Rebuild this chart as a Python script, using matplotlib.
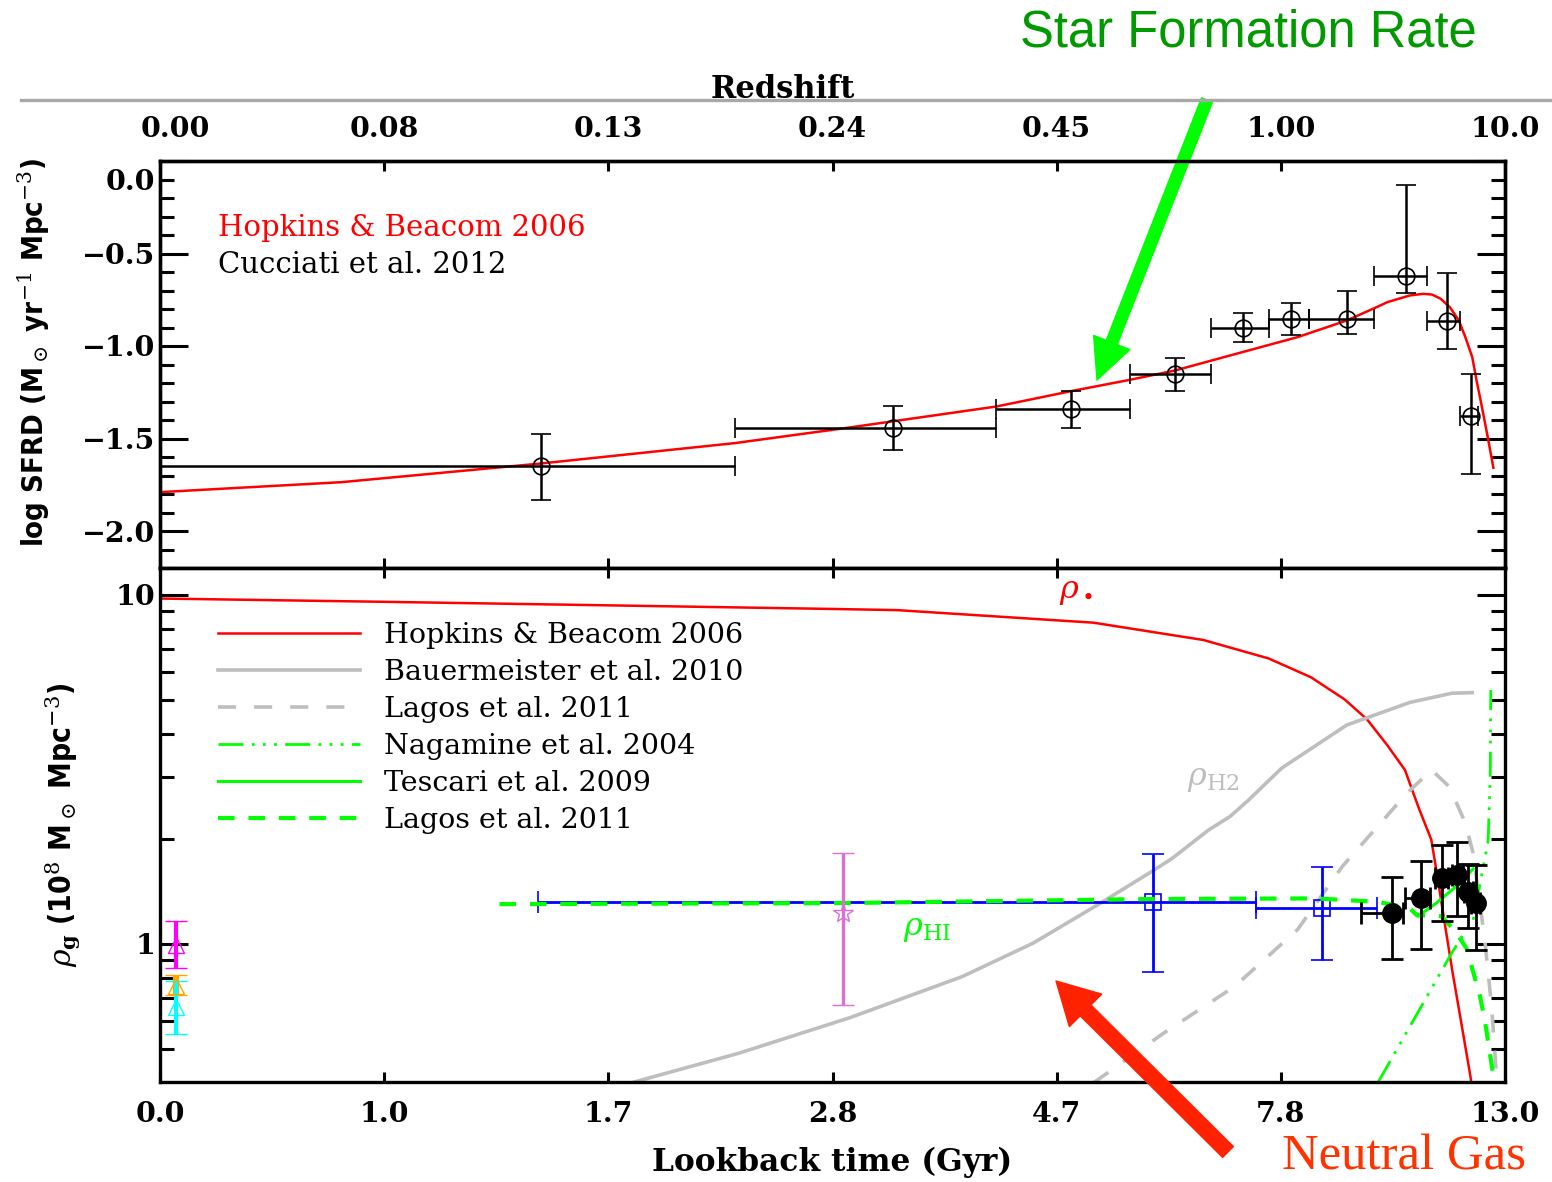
import numpy as np
import matplotlib
matplotlib.use("Agg")
import matplotlib.pyplot as plt
from matplotlib.lines import Line2D
from matplotlib.transforms import ScaledTranslation
from matplotlib.ticker import FixedLocator, NullLocator, NullFormatter, MultipleLocator, FixedFormatter

# shared time axis: these lookback times sit at equal steps along x
lookback_ticks = [0.0, 1.0, 1.7, 2.8, 4.7, 7.8, 13.0]
lookback_labels = ["0.0", "1.0", "1.7", "2.8", "4.7", "7.8", "13.0"]
redshift_labels = ["0.00", "0.08", "0.13", "0.24", "0.45", "1.00", "10.0"]

# --- top panel: star formation rate density ---
hb_t = [0.0, 0.81, 1.49, 2.32, 2.95, 4.19, 4.90, 5.71, 6.34, 7.10, 8.19, 9.33, 10.06,
        10.27, 10.79, 11.10, 11.31, 11.51, 11.72, 11.93, 12.08, 12.24, 12.34, 12.45,
        12.60, 12.73]
hb_sfrd = [-1.790, -1.736, -1.635, -1.525, -1.440, -1.327, -1.244, -1.183, -1.132,
           -1.051, -0.952, -0.862, -0.786, -0.763, -0.727, -0.718, -0.722, -0.745,
           -0.790, -0.862, -0.952, -1.060, -1.186, -1.312, -1.493, -1.658]

cuc_t = [1.49, 3.31, 4.90, 6.34, 7.28, 8.03, 9.33, 10.71, 11.65, 12.20]
cuc_t_lo = [0.0, 2.32, 4.19, 5.71, 6.84, 7.63, 8.45, 9.97, 11.2, 11.96]
cuc_t_hi = [2.32, 4.19, 5.71, 6.84, 7.63, 8.45, 9.96, 11.2, 11.95, 12.38]
cuc_sfrd = [-1.651, -1.444, -1.343, -1.154, -0.904, -0.853, -0.853, -0.624, -0.866, -1.376]
cuc_lo = [-1.831, -1.561, -1.442, -1.241, -0.981, -0.940, -0.934, -0.714, -1.015, -1.691]
cuc_hi = [-1.475, -1.327, -1.241, -1.064, -0.819, -0.769, -0.705, -0.132, -0.606, -1.154]

# --- bottom panel: mass densities (1e8 Msun / Mpc^3) ---
star_t = [0.0, 1.0, 1.7, 2.8, 3.35, 5.21, 6.73, 7.63, 8.50, 9.28, 9.80, 10.27, 10.68,
          10.99, 11.15, 11.29, 11.41, 11.60, 11.79, 11.99, 12.18, 12.25]
star_rho = [9.77, 9.56, 9.34, 9.12, 9.05, 8.33, 7.43, 6.58, 5.81, 5.02, 4.40, 3.71, 3.15,
            2.47, 2.2, 1.99, 1.62, 1.15, 0.82, 0.59, 0.43, 0.38]

baue_t = [1.78, 2.34, 2.95, 3.90, 4.50, 5.31, 6.05, 6.30, 6.80, 7.10, 7.35, 7.82, 9.33,
          10.79, 11.77, 12.24]
baue_h2 = [0.395, 0.486, 0.615, 0.806, 1.005, 1.31, 1.63, 1.76, 2.12, 2.32, 2.58, 3.19,
           4.24, 4.92, 5.23, 5.25]

lagos_h2_t = [5.21, 6.18, 7.16, 8.19, 9.23, 10.58, 10.84, 11.30, 11.71, 12.08, 12.26,
              12.53, 12.69, 12.82]
lagos_h2 = [0.40, 0.555, 0.755, 1.10, 1.67, 2.58, 2.79, 3.15, 2.82, 2.22, 1.82, 1.03,
            0.66, 0.39]

nag_t = [10.05, 10.79, 11.41, 11.76, 12.11, 12.26, 12.57, 12.61, 12.66, 12.67]
nag_hi = [0.40, 0.579, 0.789, 0.94, 1.10, 1.17, 1.86, 1.99, 3.15, 5.34]

tes_t = [10.87, 10.98, 11.41, 11.86, 12.26]
tes_hi = [1.24, 1.20, 1.31, 1.46, 1.64]

lagos_hi_t = [1.36, 2.95, 6.03, 8.61, 10.05, 10.79, 10.95, 11.53, 11.86, 12.11, 12.42,
              12.53, 12.72, 12.78]
lagos_hi = [1.30, 1.31, 1.345, 1.35, 1.32, 1.265, 1.21, 1.20, 1.08, 0.97, 0.707, 0.606,
            0.426, 0.39]

dla_t = [10.37, 11.04, 11.53, 11.89, 12.15, 12.32]
dla_t_lo = [9.67, 10.68, 11.38, 11.76, 12.05, 12.22]
dla_t_hi = [10.63, 11.26, 11.68, 12.02, 12.25, 12.42]
dla_rho = [1.23, 1.35, 1.54, 1.58, 1.41, 1.31]
dla_lo = [0.904, 0.97, 1.16, 1.20, 1.11, 0.96]
dla_hi = [1.55, 1.73, 1.92, 1.96, 1.69, 1.68]

mgii_t = [6.03, 8.76]
mgii_t_lo = [1.48, 7.46]
mgii_t_hi = [7.46, 10.03]
mgii_rho = [1.32, 1.27]
mgii_lo = [0.83, 0.90]
mgii_hi = [1.81, 1.66]

stack_t, stack_rho, stack_lo, stack_hi = 2.89, 1.225, 0.669, 1.82

local_t = 0.073
local_rho = [0.99, 0.755, 0.661]
local_lo = [0.855, 0.714, 0.551]
local_hi = [1.16, 0.815, 0.783]
local_colors = ["#ff00ff", "#ffa500", "#00ffff"]
local_lw = [3.0, 4.5, 3.0]

# x scale: piecewise map of lookback time onto equal tick steps
ext_t = [-1.0] + lookback_ticks + [18.2]
ext_u = list(range(-1, len(lookback_ticks) + 1))


def to_axis(t):
    return np.interp(t, ext_t, ext_u)


def from_axis(u):
    return np.interp(u, ext_u, ext_t)


serif = "DejaVu Serif"
plt.rcParams["font.family"] = serif
plt.rcParams["mathtext.fontset"] = "dejavuserif"

fig = plt.figure(figsize=(15.52, 11.82), dpi=100)
left, right = 160 / 1552, 1505 / 1552
ax1 = fig.add_axes([left, 1 - 568 / 1182, right - left, (568 - 161) / 1182])
ax2 = fig.add_axes([left, 1 - 1082 / 1182, right - left, (1082 - 568) / 1182])

for ax in (ax1, ax2):
    ax.set_xscale("function", functions=(to_axis, from_axis))
    ax.set_xlim(0.0, 13.0)
    ax.xaxis.set_major_locator(FixedLocator(lookback_ticks))
    ax.xaxis.set_minor_locator(NullLocator())
    for sp in ax.spines.values():
        sp.set_linewidth(2.4)
    ax.tick_params(axis="x", which="major", direction="in", length=7, width=2.2,
                   top=True, bottom=True)
    ax.tick_params(axis="y", which="major", direction="in", length=20, width=2.2,
                   left=True, right=True)
    ax.tick_params(axis="y", which="minor", direction="in", length=10, width=2.2,
                   left=True, right=True)
    ax.tick_params(labelsize=20.5)

# ---- top panel ----
ax1.plot(hb_t, hb_sfrd, color="#ff0000", lw=1.8, zorder=3)
cuc_t_a = np.array(cuc_t)
cuc_y_a = np.array(cuc_sfrd)
ax1.errorbar(cuc_t, cuc_sfrd,
             xerr=[cuc_t_a - np.array(cuc_t_lo), np.array(cuc_t_hi) - cuc_t_a],
             yerr=[cuc_y_a - np.array(cuc_lo), np.array(cuc_hi) - cuc_y_a],
             fmt="o", ms=12, mfc="none", mec="black", mew=1.2, ecolor="black",
             elinewidth=1.8, capsize=7, capthick=1.8, zorder=4)
ax1.set_ylim(-2.2, 0.0)
ax1.yaxis.set_major_locator(MultipleLocator(0.5))
ax1.yaxis.set_minor_locator(MultipleLocator(0.1))
ax1.tick_params(axis="x", labelbottom=False)
ax1.set_ylabel(r"log SFRD (M$_\odot$ yr$^{-1}$ Mpc$^{-3}$)", fontsize=21,
               fontweight="bold", family="DejaVu Sans", fontstretch="condensed")
ax1.yaxis.set_label_coords(-0.08, 0.53)
ax1.text(0.043, 0.835, "Hopkins & Beacom 2006", color="#ff0000", fontsize=21,
         transform=ax1.transAxes, va="center")
ax1.text(0.043, 0.744, "Cucciati et al. 2012", color="black", fontsize=21,
         transform=ax1.transAxes, va="center")

# redshift along the top edge
ax_top = ax1.twiny()
ax_top.set_xscale("function", functions=(to_axis, from_axis))
ax_top.set_xlim(0.0, 13.0)
ax_top.xaxis.set_major_locator(FixedLocator(lookback_ticks))
ax_top.xaxis.set_major_formatter(FixedFormatter(redshift_labels))
ax_top.xaxis.set_minor_locator(NullLocator())
ax_top.tick_params(axis="x", direction="in", length=7, width=2.2, labelsize=20.5, pad=13)
ax_top.set_xlabel("Redshift", fontsize=22, fontweight="bold")
ax_top.xaxis.set_label_coords(0.463, 1.155)
for sp in ax_top.spines.values():
    sp.set_linewidth(2.4)

# ---- bottom panel ----
h_star, = ax2.plot(star_t, star_rho, color="#ff0000", lw=1.8,
                   label="Hopkins & Beacom 2006")
h_baue, = ax2.plot(baue_t, baue_h2, color="#bebebe", lw=2.6,
                   label="Bauermeister et al. 2010")
h_lh2, = ax2.plot(lagos_h2_t, lagos_h2, color="#bebebe", lw=2.6,
                  ls=(0, (5.0, 5.0)), label="Lagos et al. 2011")
h_nag, = ax2.plot(nag_t, nag_hi, color="#00ff00", lw=2.0,
                  ls=(0, (9.0, 3.0, 1.0, 3.0, 1.0, 3.0, 1.0, 3.0)),
                  label="Nagamine et al. 2004")
h_tes, = ax2.plot(tes_t, tes_hi, color="#00ff00", lw=2.2, label="Tescari et al. 2009")

mg_t = np.array(mgii_t)
mg_r = np.array(mgii_rho)
ax2.errorbar(mgii_t, mgii_rho,
             xerr=[mg_t - np.array(mgii_t_lo), np.array(mgii_t_hi) - mg_t],
             yerr=[mg_r - np.array(mgii_lo), np.array(mgii_hi) - mg_r],
             fmt="s", ms=11, mfc="none", mec="#0000ff", mew=1.2, ecolor="#0000ff",
             elinewidth=2.0, capsize=8, capthick=2.0, zorder=3)
h_lhi, = ax2.plot(lagos_hi_t, lagos_hi, color="#00ff00", lw=3.0,
                  ls=(0, (4.0, 3.3)), label="Lagos et al. 2011", zorder=4)

d_t = np.array(dla_t)
d_r = np.array(dla_rho)
ax2.errorbar(dla_t, dla_rho,
             xerr=[d_t - np.array(dla_t_lo), np.array(dla_t_hi) - d_t],
             yerr=[d_r - np.array(dla_lo), np.array(dla_hi) - d_r],
             fmt="o", ms=14, mfc="black", mec="black", ecolor="black",
             elinewidth=2.0, capsize=8, capthick=2.0, zorder=5)

ax2.errorbar([stack_t], [stack_rho],
             yerr=[[stack_rho - stack_lo], [stack_hi - stack_rho]],
             fmt="*", ms=15, mfc="none", mec="#da70d6", mew=1.0, ecolor="#da70d6",
             elinewidth=2.4, capsize=8, capthick=2.4, zorder=5)

for rho, lo, hi, col, lw in zip(local_rho, local_lo, local_hi, local_colors, local_lw):
    ax2.errorbar([local_t], [rho], yerr=[[rho - lo], [hi - rho]], fmt="^", ms=11,
                 mfc="none", mec=col, mew=1.0, ecolor=col, elinewidth=lw, capsize=8,
                 capthick=lw, zorder=5, clip_on=False)

ax2.set_yscale("log")
ax2.set_ylim(0.402, 11.95)
ax2.yaxis.set_major_locator(FixedLocator([1.0, 10.0]))
ax2.yaxis.set_major_formatter(FixedFormatter(["1", "10"]))
ax2.yaxis.set_minor_locator(FixedLocator([0.4, 0.5, 0.6, 0.7, 0.8, 0.9, 2, 3, 4, 5, 6, 7, 8, 9]))
ax2.yaxis.set_minor_formatter(NullFormatter())
ax2.xaxis.set_major_formatter(FixedFormatter(lookback_labels))
ax2.tick_params(axis="x", pad=14)
ax2.set_xlabel("Lookback time (Gyr)", fontsize=22.5, fontweight="bold", labelpad=13)
ax2.set_ylabel(r"$\rho_{\mathbf{g}}$ (10$^8$ M$_\odot$ Mpc$^{-3}$)", fontsize=21.5,
               fontweight="bold", family="DejaVu Sans", fontstretch="condensed")
ax2.yaxis.set_label_coords(-0.057, 0.5)

ax2.legend(handles=[h_star, h_baue, h_lh2, h_nag, h_tes, h_lhi], loc="upper left",
           bbox_to_anchor=(0.043, 0.895), frameon=False, fontsize=20.5,
           handlelength=5.0, handletextpad=0.85, labelspacing=0.35, borderpad=0,
           borderaxespad=0)

ax2.text(4.97, 10.2, r"$\rho_\bullet$", color="#ff0000", fontsize=23, ha="center",
         va="center")
ax2.text(6.87, 2.97, r"$\rho_{\rm H2}$", color="#bebebe", fontsize=23, ha="center",
         va="center")
ax2.text(3.60, 1.11, r"$\rho_{\rm HI}$", color="#00ff00", fontsize=23, ha="center",
         va="center")

# call-outs around the panels
fig.add_artist(Line2D([21 / 1552, 1.0], [1 - 100 / 1182] * 2, transform=fig.transFigure,
                      color="#a8a8a8", lw=2.4))
fig.text(1248 / 1552, 1 - 33 / 1182, "Star Formation Rate", color="#009900",
         fontsize=36.5, family="Liberation Sans", ha="center", va="center")
fig.text(1404 / 1552, 1 - 1157 / 1182, "Neutral Gas", color="#ff3300",
         fontsize=36.5, family="Liberation Serif", ha="center", va="center")
ax1.annotate("", xy=(1097, 1182 - 380), xycoords="figure pixels",
             xytext=(1207, 1182 - 100), textcoords="figure pixels",
             arrowprops=dict(arrowstyle="simple,head_width=28,head_length=29,tail_width=8.5",
                             mutation_scale=1, color="#00ff00", shrinkA=0, shrinkB=0),
             annotation_clip=False)
ax2.annotate("", xy=(1056, 1182 - 981), xycoords="figure pixels",
             xytext=(1228, 1182 - 1152), textcoords="figure pixels",
             arrowprops=dict(arrowstyle="simple,head_width=33,head_length=30,tail_width=11",
                             mutation_scale=1, color="#ff2200", shrinkA=0, shrinkB=0),
             annotation_clip=False)

# bold tick labels; nudge the corner labels off the frame
fig.canvas.draw()
for ax in (ax1, ax2, ax_top):
    for lab in ax.get_xticklabels() + ax.get_yticklabels():
        lab.set_fontweight("bold")
for lab in ax1.get_yticklabels():
    if lab.get_text() == "0.0":
        lab.set_transform(lab.get_transform() + ScaledTranslation(0, -13 / 72, fig.dpi_scale_trans))
for lab in ax_top.get_xticklabels():
    if lab.get_text() == "0.00":
        lab.set_transform(lab.get_transform() + ScaledTranslation(11 / 72, 0, fig.dpi_scale_trans))

fig.savefig("out.png", dpi=100)
